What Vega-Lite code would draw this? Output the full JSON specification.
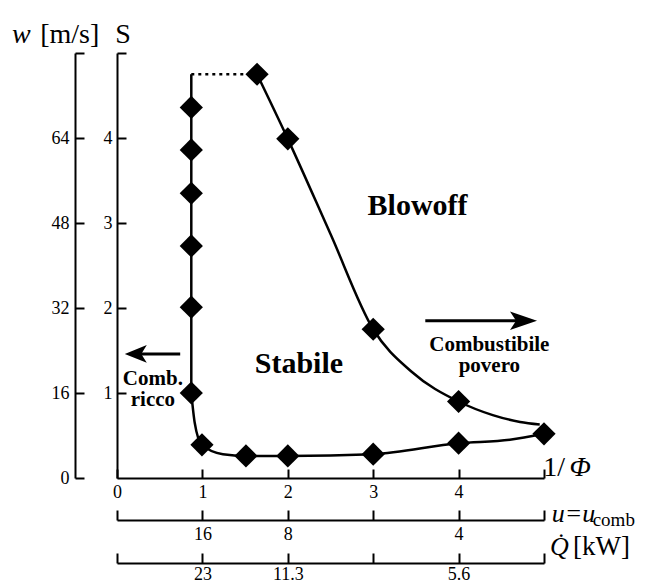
{
  "$schema": "https://vega.github.io/schema/vega-lite/v6.json",
  "autosize": "none",
  "width": 427,
  "height": 425,
  "padding": {"left": 117, "top": 53, "right": 102, "bottom": 105},
  "background": "white",
  "config": {
    "view": {"stroke": null},
    "axis": {
      "domainColor": "black", "domainWidth": 2, "tickColor": "black", "tickWidth": 2,
      "labelFont": "Liberation Serif", "labelFontSize": 18, "labelColor": "black",
      "grid": false, "title": null, "labelOverlap": false, "labelFlush": false
    }
  },
  "resolve": {"axis": {"x": "independent", "y": "independent"}},
  "layer": [
    {
      "data": {"values": [
        {"x": 0.87, "y": 4.36}, {"x": 0.87, "y": 3.86}, {"x": 0.87, "y": 3.35}, {"x": 0.87, "y": 2.73},
        {"x": 0.87, "y": 2.01}, {"x": 0.87, "y": 1.0}, {"x": 0.995, "y": 0.39}, {"x": 1.51, "y": 0.26},
        {"x": 2.0, "y": 0.26}, {"x": 3.0, "y": 0.28}, {"x": 4.0, "y": 0.41}, {"x": 5.0, "y": 0.52},
        {"x": 1.64, "y": 4.75}, {"x": 2.0, "y": 3.99}, {"x": 3.0, "y": 1.75}, {"x": 4.0, "y": 0.9}
      ]},
      "mark": {"type": "point", "shape": "diamond", "filled": true, "color": "black", "size": 540, "opacity": 1},
      "encoding": {
        "x": {"field": "x", "type": "quantitative", "scale": {"domain": [0, 5], "nice": false},
          "axis": {"orient": "bottom", "values": [0, 1, 2, 3, 4, 5], "tickSize": -9, "labelPadding": 14,
            "labelExpr": "datum.value == 5 ? '' : datum.label"}},
        "y": {"field": "y", "type": "quantitative", "scale": {"domain": [0, 5], "nice": false},
          "axis": {"orient": "left", "values": [1, 2, 3, 4, 5], "tickSize": -9, "labelPadding": 14,
            "labelExpr": "datum.value == 5 ? '' : datum.label"}}
      }
    },
    {
      "data": {"values": [{"x": 0.87, "y": 4.75}, {"x": 0.87, "y": 1.0}]},
      "mark": {"type": "line", "color": "black", "strokeWidth": 2.5},
      "encoding": {
        "x": {"field": "x", "type": "quantitative", "scale": {"domain": [0, 5], "nice": false},
          "axis": {"orient": "bottom", "offset": 42, "values": [0, 1, 2, 3, 4, 5], "tickSize": -10, "labelPadding": 15,
            "labelExpr": "datum.value == 1 ? '16' : datum.value == 2 ? '8' : datum.value == 4 ? '4' : ''"}},
        "y": {"field": "y", "type": "quantitative", "scale": {"domain": [0, 5], "nice": false},
          "axis": {"orient": "left", "offset": 42, "values": [0, 1, 2, 3, 4, 5], "tickSize": -9, "labelPadding": 15,
            "labelExpr": "datum.value == 5 ? '' : format(datum.value * 16, 'd')"}}
      }
    },
    {
      "data": {"values": [
        {"x": 0.87, "y": 1.0}, {"x": 0.91, "y": 0.65}, {"x": 0.995, "y": 0.39}, {"x": 1.24, "y": 0.28},
        {"x": 1.51, "y": 0.26}, {"x": 2.0, "y": 0.26}, {"x": 3.0, "y": 0.28}, {"x": 4.0, "y": 0.41},
        {"x": 4.6, "y": 0.45}, {"x": 5.0, "y": 0.52}
      ]},
      "mark": {"type": "line", "color": "black", "strokeWidth": 2.5, "interpolate": "monotone"},
      "encoding": {
        "x": {"field": "x", "type": "quantitative", "scale": {"domain": [0, 5], "nice": false},
          "axis": {"orient": "bottom", "offset": 85, "values": [0, 1, 2, 3, 4, 5], "tickSize": -10, "labelPadding": 12,
            "labelExpr": "datum.value == 1 ? '23' : datum.value == 2 ? '11.3' : datum.value == 4 ? '5.6' : ''"}},
        "y": {"field": "y", "type": "quantitative", "scale": {"domain": [0, 5], "nice": false}, "axis": null}
      }
    },
    {
      "data": {"values": [
        {"x": 1.64, "y": 4.75}, {"x": 2.0, "y": 3.99}, {"x": 2.5, "y": 2.87}, {"x": 3.0, "y": 1.75},
        {"x": 3.45, "y": 1.25}, {"x": 4.0, "y": 0.9}, {"x": 4.4, "y": 0.74}, {"x": 4.72, "y": 0.66}, {"x": 4.95, "y": 0.63}
      ]},
      "mark": {"type": "line", "color": "black", "strokeWidth": 2.5, "interpolate": "monotone"},
      "encoding": {
        "x": {"field": "x", "type": "quantitative", "scale": {"domain": [0, 5], "nice": false}, "axis": null},
        "y": {"field": "y", "type": "quantitative", "scale": {"domain": [0, 5], "nice": false}, "axis": null}
      }
    },
    {
      "data": {"values": [{"x": 0.87, "y": 4.75}, {"x": 1.6, "y": 4.75}]},
      "mark": {"type": "line", "color": "black", "strokeWidth": 2.5, "strokeDash": [3, 4]},
      "encoding": {
        "x": {"field": "x", "type": "quantitative", "scale": {"domain": [0, 5], "nice": false}, "axis": null},
        "y": {"field": "y", "type": "quantitative", "scale": {"domain": [0, 5], "nice": false}, "axis": null}
      }
    },
    {
      "data": {"values": [{"x": 3.61, "y": 1.85, "g": "r"}, {"x": 4.75, "y": 1.85, "g": "r"}, {"x": 0.2, "y": 1.46, "g": "l"}, {"x": 0.74, "y": 1.46, "g": "l"}]},
      "mark": {"type": "line", "color": "black", "strokeWidth": 3},
      "encoding": {
        "x": {"field": "x", "type": "quantitative", "scale": {"domain": [0, 5], "nice": false}, "axis": null},
        "y": {"field": "y", "type": "quantitative", "scale": {"domain": [0, 5], "nice": false}, "axis": null},
        "detail": {"field": "g"}
      }
    },
    {
      "data": {"values": [{"x": 4.76, "y": 1.85}]},
      "mark": {"type": "point", "filled": true, "color": "black", "opacity": 1, "size": 729, "shape": "M1,0 L-1,-0.68 L-0.55,0 L-1,0.68 Z"},
      "encoding": {
        "x": {"field": "x", "type": "quantitative", "scale": {"domain": [0, 5], "nice": false}, "axis": null},
        "y": {"field": "y", "type": "quantitative", "scale": {"domain": [0, 5], "nice": false}, "axis": null}
      }
    },
    {
      "data": {"values": [{"x": 0.22, "y": 1.46}]},
      "mark": {"type": "point", "filled": true, "color": "black", "opacity": 1, "size": 484, "shape": "M-1,0 L1,-0.8 L0.5,0 L1,0.8 Z"},
      "encoding": {
        "x": {"field": "x", "type": "quantitative", "scale": {"domain": [0, 5], "nice": false}, "axis": null},
        "y": {"field": "y", "type": "quantitative", "scale": {"domain": [0, 5], "nice": false}, "axis": null}
      }
    },
    {
      "data": {"values": [{"x": 3.52, "y": 3.09, "t": "Blowoff"}, {"x": 2.13, "y": 1.24, "t": "Stabile"}]},
      "mark": {"type": "text", "font": "Liberation Serif", "fontWeight": "bold", "fontSize": 30, "align": "center", "baseline": "alphabetic", "color": "black"},
      "encoding": {
        "x": {"field": "x", "type": "quantitative", "scale": {"domain": [0, 5], "nice": false}, "axis": null},
        "y": {"field": "y", "type": "quantitative", "scale": {"domain": [0, 5], "nice": false}, "axis": null},
        "text": {"field": "t"}
      }
    },
    {
      "data": {"values": [{"x": 4.36, "y": 1.5, "t": ["Combustibile", "povero"]}]},
      "mark": {"type": "text", "font": "Liberation Serif", "fontWeight": "bold", "fontSize": 21, "lineHeight": 21, "align": "center", "baseline": "alphabetic", "color": "black"},
      "encoding": {
        "x": {"field": "x", "type": "quantitative", "scale": {"domain": [0, 5], "nice": false}, "axis": null},
        "y": {"field": "y", "type": "quantitative", "scale": {"domain": [0, 5], "nice": false}, "axis": null},
        "text": {"field": "t"}
      }
    },
    {
      "data": {"values": [{"x": 0.42, "y": 1.09, "t": ["Comb.", "ricco"]}]},
      "mark": {"type": "text", "font": "Liberation Serif", "fontWeight": "bold", "fontSize": 21, "lineHeight": 21, "align": "center", "baseline": "alphabetic", "color": "black"},
      "encoding": {
        "x": {"field": "x", "type": "quantitative", "scale": {"domain": [0, 5], "nice": false}, "axis": null},
        "y": {"field": "y", "type": "quantitative", "scale": {"domain": [0, 5], "nice": false}, "axis": null},
        "text": {"field": "t"}
      }
    },
    {
      "data": {"values": [
        {"x": -1.23, "y": 5.12, "t": "w"}, {"x": 5.3, "y": 0.02, "t": "Φ"}
      ]},
      "mark": {"type": "text", "font": "Liberation Serif", "fontStyle": "italic", "fontSize": 28, "align": "left", "baseline": "alphabetic", "color": "black"},
      "encoding": {
        "x": {"field": "x", "type": "quantitative", "scale": {"domain": [0, 5], "nice": false}, "axis": null},
        "y": {"field": "y", "type": "quantitative", "scale": {"domain": [0, 5], "nice": false}, "axis": null},
        "text": {"field": "t"}
      }
    },
    {
      "data": {"values": [
        {"x": -0.9, "y": 5.12, "t": "[m/s]"}, {"x": -0.02, "y": 5.12, "t": "S"}, {"x": 4.99, "y": 0.02, "t": "1/"}
      ]},
      "mark": {"type": "text", "font": "Liberation Serif", "fontSize": 28, "align": "left", "baseline": "alphabetic", "color": "black"},
      "encoding": {
        "x": {"field": "x", "type": "quantitative", "scale": {"domain": [0, 5], "nice": false}, "axis": null},
        "y": {"field": "y", "type": "quantitative", "scale": {"domain": [0, 5], "nice": false}, "axis": null},
        "text": {"field": "t"}
      }
    },
    {
      "data": {"values": [
        {"x": 5.09, "y": -0.52, "t": "u=u"}, {"x": 5.07, "y": -0.91, "t": "Q̇"}
      ]},
      "mark": {"type": "text", "font": "Liberation Serif", "fontStyle": "italic", "fontSize": 26, "align": "left", "baseline": "alphabetic", "color": "black"},
      "encoding": {
        "x": {"field": "x", "type": "quantitative", "scale": {"domain": [0, 5], "nice": false}, "axis": null},
        "y": {"field": "y", "type": "quantitative", "scale": {"domain": [0, 5], "nice": false}, "axis": null},
        "text": {"field": "t"}
      }
    },
    {
      "data": {"values": [{"x": 5.34, "y": -0.91, "t": "[kW]"}]},
      "mark": {"type": "text", "font": "Liberation Serif", "fontSize": 27, "align": "left", "baseline": "alphabetic", "color": "black"},
      "encoding": {
        "x": {"field": "x", "type": "quantitative", "scale": {"domain": [0, 5], "nice": false}, "axis": null},
        "y": {"field": "y", "type": "quantitative", "scale": {"domain": [0, 5], "nice": false}, "axis": null},
        "text": {"field": "t"}
      }
    },
    {
      "data": {"values": [{"x": 5.57, "y": -0.56, "t": "comb"}]},
      "mark": {"type": "text", "font": "Liberation Serif", "fontSize": 19, "align": "left", "baseline": "alphabetic", "color": "black"},
      "encoding": {
        "x": {"field": "x", "type": "quantitative", "scale": {"domain": [0, 5], "nice": false}, "axis": null},
        "y": {"field": "y", "type": "quantitative", "scale": {"domain": [0, 5], "nice": false}, "axis": null},
        "text": {"field": "t"}
      }
    }
  ]
}
